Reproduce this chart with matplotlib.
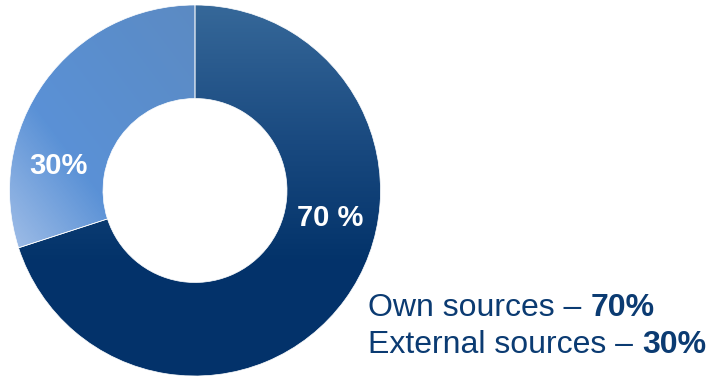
import numpy as np
import matplotlib
matplotlib.use('Agg')
import matplotlib.pyplot as plt
from matplotlib.colors import LinearSegmentedColormap

plt.rcParams['font.family'] = ['Liberation Sans', 'DejaVu Sans']

# source split
shares = [70, 30]
slice_labels = ['70 %', '30%']
legend_names = ['Own sources', 'External sources']
legend_values = ['70%', '30%']

W, H = 708, 377
navy = '#0b3b72'

fig = plt.figure(figsize=(W / 100, H / 100), dpi=100)
ax = fig.add_axes([0, 0, 1, 1])

cx, cy_img, R, ring = 195, 190.5, 185.5, 93.5
cy = H - cy_img

wedges, _ = ax.pie(shares, center=(cx, cy), radius=R, startangle=90,
                   counterclock=False, frame=True,
                   wedgeprops=dict(width=ring, facecolor='none',
                                   edgecolor='white', linewidth=0.5, zorder=2))
ax.set_xlim(0, W)
ax.set_ylim(0, H)
ax.set_aspect('auto')
ax.axis('off')

# gradient fills, clipped to each wedge
xs = np.arange(W) + 0.5
ys = np.arange(H) + 0.5
gx, gy = np.meshgrid(xs, ys)

dark_cmap = LinearSegmentedColormap.from_list(
    'dark', [(0.0, '#37699a'), (0.37, '#1a4a80'), (0.69, '#03336a'), (1.0, '#03326a')])
ax.imshow(gy, extent=(0, W, 0, H), origin='upper', aspect='auto',
          cmap=dark_cmap, vmin=0, vmax=H, clip_path=wedges[0], zorder=1)

light_cmap = LinearSegmentedColormap.from_list(
    'light', [(0.0, '#5c88bc'), (0.68, '#5a91d6'), (1.0, '#abc5ea')])
t = -0.8 * (gx - cx) + 0.6 * (gy - cy_img)
ax.imshow(t, extent=(0, W, 0, H), origin='upper', aspect='auto',
          cmap=light_cmap, vmin=-180, vmax=200, clip_path=wedges[1], zorder=1)

# percentage labels on the ring
label_pos = [(330, 218), (58, 165.5)]
for (lx, ly), txt in zip(label_pos, slice_labels):
    ax.text(lx, H - ly, txt, ha='center', va='center', color='white',
            fontsize=21, fontweight='bold', zorder=3)

# legend lines: regular name followed by bold value
fig.canvas.draw()
renderer = fig.canvas.get_renderer()
for name, val, base in zip(legend_names, legend_values, [316, 353]):
    t1 = ax.text(368, H - base, name + ' \u2013 ', ha='left', va='baseline',
                 color=navy, fontsize=23, zorder=3)
    bb = t1.get_window_extent(renderer=renderer)
    x_end = ax.transData.inverted().transform((bb.x1, bb.y0))[0]
    ax.text(x_end, H - base, val, ha='left', va='baseline', color=navy,
            fontsize=23, fontweight='bold', zorder=3)

fig.savefig('out.png', dpi=100)
